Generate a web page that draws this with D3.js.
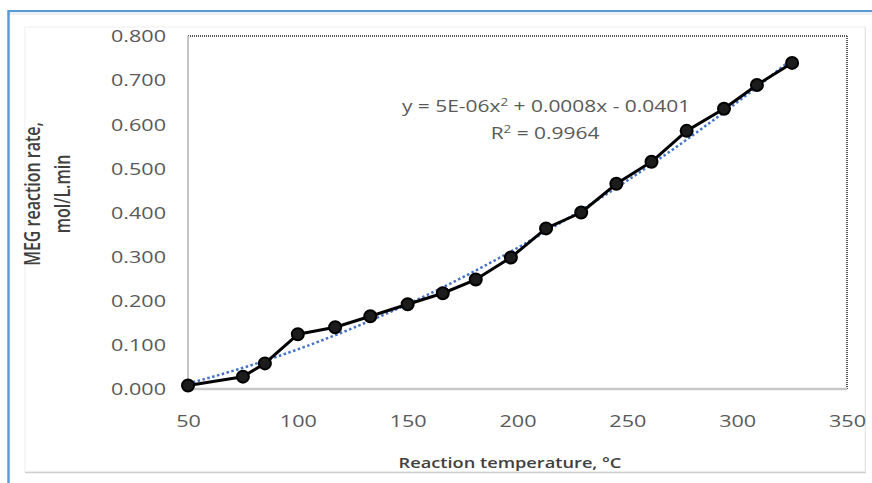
<!DOCTYPE html>
<html>
<head>
<meta charset="utf-8">
<script src="https://cdn.jsdelivr.net/npm/d3@7/dist/d3.min.js"></script>
<style>
  html, body { margin: 0; padding: 0; background: #fff; }
  svg { display: block; }
</style>
</head>
<body>
<div id="chart"></div>
<script>
// Reaction temperature (°C) and measured MEG reaction rate (mol/L.min)
const temperatures = [50, 75, 85, 100, 117, 133, 150, 166, 181, 197, 213, 229, 245, 261, 277, 294, 309, 325];
const rates = [0.008, 0.028, 0.058, 0.124, 0.140, 0.165, 0.192, 0.217, 0.248, 0.298, 0.364, 0.400, 0.465, 0.515, 0.585, 0.635, 0.689, 0.739];

// Polynomial trendline coefficients (a·x² + b·x + c) and its fit quality
const trendCoefficients = [5e-6, 0.0008, -0.0401];
const trendR2 = 0.9964;

// Axis ticks and titles
const xTicks = [50, 100, 150, 200, 250, 300, 350];
const yTicks = [0, 0.1, 0.2, 0.3, 0.4, 0.5, 0.6, 0.7, 0.8];
const xTitle = "Reaction temperature, °C";
const yTitleLines = ["MEG reaction rate,", "mol/L.min"];

const W = 872, H = 483;
const plot = { left: 188, right: 847, top: 36, bottom: 389 };
const sx = 1.35; // horizontal stretch applied to all text
const font = "'Open Sans', 'Liberation Sans', sans-serif";

const svg = d3.select("#chart").append("svg")
  .attr("width", W).attr("height", H);

svg.append("rect").attr("width", W).attr("height", H).attr("fill", "#fff");

// Outer frame: light band under the blue top edge, blue top and left edges
svg.append("rect").attr("x", 8).attr("y", 11).attr("width", W - 8).attr("height", 4).attr("fill", "#eef0f3");
svg.append("line").attr("x1", 8).attr("x2", W).attr("y1", 11).attr("y2", 11)
  .attr("stroke", "#5b9bd5").attr("stroke-width", 2);
svg.append("line").attr("x1", 8.5).attr("x2", 8.5).attr("y1", 10).attr("y2", H)
  .attr("stroke", "#5b9bd5").attr("stroke-width", 2.5);

// Chart area
svg.append("rect").attr("x", 25).attr("y", 27).attr("width", 840).attr("height", 445)
  .attr("fill", "#fff").attr("stroke", "#eeeeee").attr("stroke-width", 1);
svg.append("line").attr("x1", 25).attr("x2", 866).attr("y1", 472.5).attr("y2", 472.5)
  .attr("stroke", "#cfcfcf").attr("stroke-width", 1.5);
svg.append("line").attr("x1", 865.5).attr("x2", 865.5).attr("y1", 27).attr("y2", 472)
  .attr("stroke", "#e4e4e4").attr("stroke-width", 1);

const x = d3.scaleLinear().domain([50, 350]).range([plot.left, plot.right]);
const y = d3.scaleLinear().domain([0, 0.8]).range([plot.bottom, plot.top]);

// Plot area border: dotted top and right, solid grey axes left and bottom
svg.append("line").attr("x1", plot.left).attr("x2", plot.right).attr("y1", plot.top).attr("y2", plot.top)
  .attr("stroke", "#555").attr("stroke-width", 2).attr("stroke-dasharray", "1,1");
svg.append("line").attr("x1", plot.right).attr("x2", plot.right).attr("y1", plot.top).attr("y2", plot.bottom)
  .attr("stroke", "#555").attr("stroke-width", 2).attr("stroke-dasharray", "1,1");
svg.append("line").attr("x1", plot.left).attr("x2", plot.left).attr("y1", plot.top).attr("y2", plot.bottom)
  .attr("stroke", "#c4c4c4").attr("stroke-width", 2);
svg.append("line").attr("x1", plot.left).attr("x2", plot.right).attr("y1", plot.bottom).attr("y2", plot.bottom)
  .attr("stroke", "#c8c8c8").attr("stroke-width", 2.5);

// Y axis labels
const gy = svg.append("g").attr("transform", `translate(${plot.left},0)`)
  .call(d3.axisLeft(y).tickValues(yTicks).tickFormat(d3.format(".3f")).tickSize(0).tickPadding(0));
gy.select(".domain").remove();
gy.selectAll(".tick text")
  .attr("x", null).attr("dy", "0.36em")
  .attr("transform", `translate(-22,0) scale(${sx},1)`)
  .attr("text-anchor", "end")
  .attr("font-family", font).attr("font-size", 16).attr("fill", "#595959");

// X axis labels
const gx = svg.append("g").attr("transform", `translate(0,${plot.bottom})`)
  .call(d3.axisBottom(x).tickValues(xTicks).tickFormat(d3.format("d")).tickSize(0).tickPadding(0));
gx.select(".domain").remove();
gx.selectAll(".tick text")
  .attr("y", null).attr("dy", "0.36em")
  .attr("transform", `translate(0,32) scale(${sx},1)`)
  .attr("text-anchor", "middle")
  .attr("font-family", font).attr("font-size", 16).attr("fill", "#595959");

// Axis titles
svg.append("text")
  .attr("transform", `translate(510,463) scale(${sx},1)`)
  .attr("dy", "0.36em").attr("text-anchor", "middle")
  .attr("font-family", font).attr("font-size", 13.5).attr("font-weight", 600).attr("fill", "#404040")
  .text(xTitle);

const yTitleX = [32, 62];
yTitleLines.forEach((line, i) => {
  svg.append("text")
    .attr("transform", `translate(${yTitleX[i]},194) scale(${sx},1) rotate(-90)`)
    .attr("dy", "0.36em").attr("text-anchor", "middle")
    .attr("font-family", font).attr("font-size", 16).attr("font-weight", 600).attr("fill", "#404040")
    .text(line);
});

// Polynomial trendline (blue dotted)
const [a, b, c] = trendCoefficients;
const trendX = d3.range(temperatures[0], temperatures[temperatures.length - 1] + 0.5, 2.5);
svg.append("path")
  .datum(trendX)
  .attr("fill", "none").attr("stroke", "#4472c4").attr("stroke-width", 2.5)
  .attr("stroke-dasharray", "2.5,2.5")
  .attr("d", d3.line().x(t => x(t)).y(t => y(a * t * t + b * t + c)));

// Data series: black line with circular markers
const series = temperatures.map((t, i) => ({ t, r: rates[i] }));
svg.append("path")
  .datum(series)
  .attr("fill", "none").attr("stroke", "#000").attr("stroke-width", 3)
  .attr("stroke-linejoin", "round")
  .attr("d", d3.line().x(d => x(d.t)).y(d => y(d.r)));
svg.append("g").selectAll("circle")
  .data(series).join("circle")
  .attr("cx", d => x(d.t)).attr("cy", d => y(d.r)).attr("r", 6)
  .attr("fill", "#1c1c1c").attr("stroke", "#000").attr("stroke-width", 2);

// Trendline equation and R²
const fmtA = a.toExponential(0).replace("e-", "E-0");
const eq = svg.append("text")
  .attr("transform", `translate(546,106) scale(${sx},1)`)
  .attr("dy", "0.36em").attr("text-anchor", "middle")
  .attr("font-family", font).attr("font-size", 15.5).attr("fill", "#595959");
eq.append("tspan").text(`y = ${fmtA.toUpperCase()}x`);
eq.append("tspan").attr("font-size", 10).attr("dy", -6).text("2");
eq.append("tspan").attr("dy", 6).text(` + ${b}x - ${Math.abs(c)}`);

const r2 = svg.append("text")
  .attr("transform", `translate(545,133) scale(${sx},1)`)
  .attr("dy", "0.36em").attr("text-anchor", "middle")
  .attr("font-family", font).attr("font-size", 15.5).attr("fill", "#595959");
r2.append("tspan").text("R");
r2.append("tspan").attr("font-size", 10).attr("dy", -6).text("2");
r2.append("tspan").attr("dy", 6).text(` = ${trendR2}`);
</script>
</body>
</html>
